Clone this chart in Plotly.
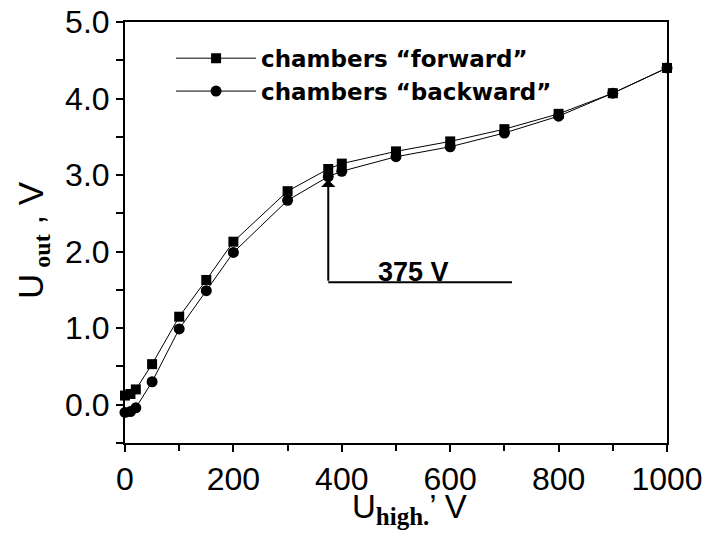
import plotly.graph_objects as go

# ---- data ----
u_high = [0, 10, 20, 50, 100, 150, 200, 300, 375, 400, 500, 600, 700, 800, 900, 1000]
u_out_forward = [0.12, 0.14, 0.20, 0.53, 1.15, 1.63, 2.13, 2.79, 3.08, 3.15, 3.31, 3.44, 3.60, 3.80, 4.07, 4.40]
u_out_backward = [-0.10, -0.09, -0.04, 0.30, 0.99, 1.49, 1.99, 2.67, 2.98, 3.05, 3.24, 3.37, 3.55, 3.77, 4.07, 4.40]
series_names = ["chambers \u201cforward\u201d", "chambers \u201cbackward\u201d"]

# marker annotation values
knee_x = 375
knee_y_base = 1.6
knee_y_tip = 2.94
knee_line_end = 714
knee_label = "375 V"
knee_label_x = 533

x_ticks = [0, 200, 400, 600, 800, 1000]
y_ticks = [0.0, 1.0, 2.0, 3.0, 4.0, 5.0]

SANS = "Liberation Sans, Arial, Helvetica, sans-serif"
LEGEND_FONT = "DejaVu Sans, Liberation Sans, Arial, sans-serif"

fig = go.Figure()
fig.add_trace(go.Scatter(
    x=u_high, y=u_out_forward, name=series_names[0], mode="lines+markers",
    line=dict(color="black", width=1),
    marker=dict(symbol="square", size=10, color="black"),
    cliponaxis=False,
))
fig.add_trace(go.Scatter(
    x=u_high, y=u_out_backward, name=series_names[1], mode="lines+markers",
    line=dict(color="black", width=1),
    marker=dict(symbol="circle", size=11, color="black"),
    cliponaxis=False,
))

axis_common = dict(
    showline=True, linecolor="black", linewidth=2, mirror=True,
    ticks="outside", ticklen=7, tickwidth=1.5, tickcolor="black",
    showgrid=False, zeroline=False, automargin=False,
    ticklabeloverflow="allow",
    tickfont=dict(family=SANS, size=32, color="black"),
)

fig.update_xaxes(range=[0, 1000], tickvals=x_ticks, ticktext=[str(v) for v in x_ticks],
                 minor=dict(dtick=100, tick0=0, ticks="outside", ticklen=6, tickwidth=1.5, tickcolor="black"),
                 **axis_common)
fig.update_yaxes(range=[-0.5, 5.0], tickvals=y_ticks, ticktext=[f"{v:.1f}" for v in y_ticks],
                 minor=dict(dtick=0.5, tick0=0, ticks="outside", ticklen=7, tickwidth=1.5, tickcolor="black"),
                 **axis_common)

fig.add_shape(type="line", xref="x", yref="y", x0=knee_x, x1=knee_line_end,
              y0=knee_y_base, y1=knee_y_base, line=dict(color="black", width=2))
fig.add_annotation(x=knee_x, y=knee_y_tip, ax=knee_x, ay=knee_y_base, xref="x", yref="y",
                   axref="x", ayref="y", text="", showarrow=True, arrowhead=1,
                   arrowsize=1.2, arrowwidth=2, arrowcolor="black")
fig.add_annotation(x=knee_label_x, y=knee_y_base, xref="x", yref="y", yanchor="bottom",
                   text="<b>" + knee_label + "</b>", showarrow=False, yshift=-7,
                   font=dict(family=SANS, size=27, color="black"))

# axis titles
fig.add_annotation(
    xref="paper", yref="paper", x=0.525, y=-0.103, xanchor="center", yanchor="top",
    text=("U<sub><span style=\"font-family:Liberation Serif;font-weight:bold;font-size:25px\">high.</span></sub>\u2019 V"),
    showarrow=False, font=dict(family=SANS, size=33, color="black"),
)
fig.add_annotation(
    xref="paper", yref="paper", x=-0.17, y=0.482, xanchor="center", yanchor="middle",
    textangle=-90,
    text=("U<sub><span style=\"font-family:Liberation Serif;font-weight:bold;font-size:24px\"> out</span></sub> , V"),
    showarrow=False, font=dict(family=SANS, size=35, color="black"),
)

fig.update_layout(
    width=713, height=541,
    margin=dict(l=117, r=54, t=14, b=106),
    paper_bgcolor="white", plot_bgcolor="white",
    showlegend=True,
    legend=dict(x=0.085, y=0.965, xanchor="left", yanchor="top",
                bgcolor="rgba(0,0,0,0)", itemwidth=80,
                font=dict(family=LEGEND_FONT, size=23, color="black", weight="bold"),
                tracegroupgap=0),
)

fig.write_html("out.html")
